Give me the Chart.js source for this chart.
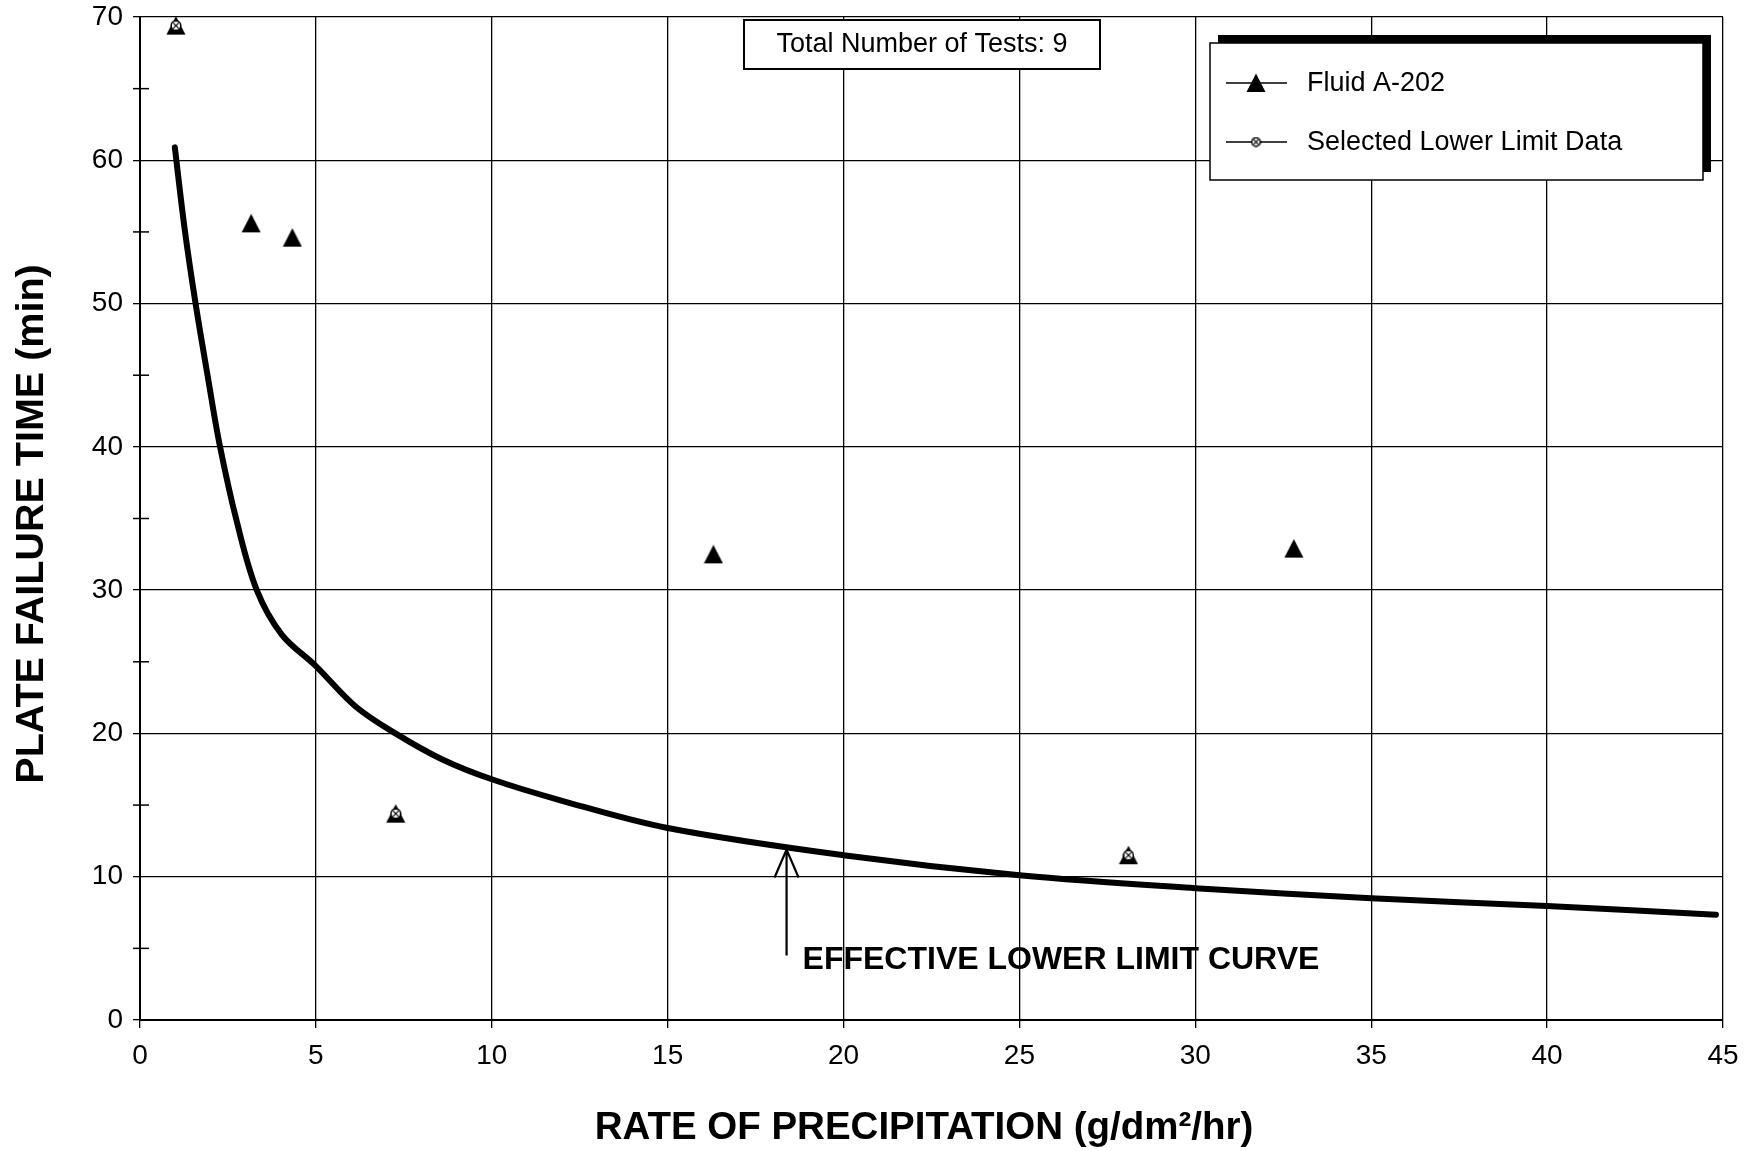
<!DOCTYPE html>
<html>
<head>
<meta charset="utf-8">
<title>Plate Failure Time vs Rate of Precipitation</title>
<script src="https://cdn.jsdelivr.net/npm/chart.js@4.4.1/dist/chart.umd.min.js"></script>
<style>
  html, body { margin: 0; padding: 0; background: #ffffff; }
  #wrap { width: 1747px; height: 1151px; }
</style>
</head>
<body>
<div id="wrap"><canvas id="failureChart" width="1747" height="1151"></canvas></div>
<script>
// Fluid A-202 test results
const fluidX = [1.02, 3.16, 4.33, 7.27, 16.3, 28.1, 32.8];
const fluidY = [69.4, 55.6, 54.6, 14.4, 32.5, 11.5, 32.9];

// Selected lower limit data (subset of the tests)
const selectedX = [1.02, 7.27, 28.1];
const selectedY = [69.4, 14.4, 11.5];

// Effective lower limit curve
const curveX = [0.99, 1.27, 1.58, 1.92, 2.26, 2.75, 3.32, 4.03, 5.0, 6.12, 7.26, 8.58, 10.0, 12.0, 15.0, 20.0, 25.0, 30.0, 35.0, 40.0, 44.8];
const curveY = [60.9, 55.2, 50.0, 45.0, 40.2, 34.8, 30.0, 26.9, 24.7, 21.9, 20.0, 18.2, 16.8, 15.3, 13.4, 11.5, 10.1, 9.2, 8.5, 7.95, 7.35];

// Axis ticks
const xTicks = [0, 5, 10, 15, 20, 25, 30, 35, 40, 45];
const yTicks = [0, 10, 20, 30, 40, 50, 60, 70];
const yMinorTicks = [5, 15, 25, 35, 45, 55, 65];

// Texts
const xTitle = 'RATE OF PRECIPITATION (g/dm\u00B2/hr)';
const yTitle = 'PLATE FAILURE TIME (min)';
const testsLabel = 'Total Number of Tests: 9';
const curveLabel = 'EFFECTIVE LOWER LIMIT CURVE';
const arrowAt = { x: 18.38, yFrom: 4.5, yTo: 11.9 };

const ctx = document.getElementById('failureChart').getContext('2d');

// Marker images (triangle and small circled cross)
function makeTriangle() {
    const c = document.createElement('canvas');
    c.width = 20; c.height = 20;
    const g = c.getContext('2d');
    g.fillStyle = '#000';
    g.beginPath();
    g.moveTo(10, 0.5);
    g.lineTo(19.5, 19);
    g.lineTo(0.5, 19);
    g.closePath();
    g.fill();
    return c;
}

function makeCircleMark(size) {
    const c = document.createElement('canvas');
    c.width = size; c.height = size;
    const g = c.getContext('2d');
    const m = size / 2;
    const r = m - 1.2;
    g.fillStyle = '#fff';
    g.strokeStyle = '#000';
    g.lineWidth = 1.5;
    g.beginPath();
    g.arc(m, m, r, 0, Math.PI * 2);
    g.fill();
    g.stroke();
    g.lineWidth = 1.2;
    const d = r * 0.55;
    g.beginPath();
    g.moveTo(m - d, m - d); g.lineTo(m + d, m + d);
    g.moveTo(m + d, m - d); g.lineTo(m - d, m + d);
    g.stroke();
    return c;
}

const triangleImg = makeTriangle();
const circleImg = makeCircleMark(12);
const circleLegendImg = makeCircleMark(11);

const toPoints = (xs, ys) => xs.map((x, i) => ({ x: x, y: ys[i] }));

// Extra drawing: titles, minor ticks, text box, legend, arrow
const decorPlugin = {
    id: 'decor',
    afterDraw(chart) {
        const c = chart.ctx;
        const xs = chart.scales.x;
        const ys = chart.scales.y;
        const area = chart.chartArea;
        c.save();

        // minor ticks on the y axis
        c.strokeStyle = '#000';
        c.lineWidth = 1.5;
        yMinorTicks.forEach(v => {
            const py = ys.getPixelForValue(v);
            c.beginPath();
            c.moveTo(area.left - 7, py);
            c.lineTo(area.left + 9, py);
            c.stroke();
        });

        // axis titles
        c.fillStyle = '#000';
        c.font = 'bold 38.5px "Liberation Sans", Arial, sans-serif';
        c.textAlign = 'center';
        c.textBaseline = 'middle';
        c.fillText(xTitle, 924, 1128);
        c.save();
        c.translate(32, 524);
        c.rotate(-Math.PI / 2);
        c.font = 'bold 39.5px "Liberation Sans", Arial, sans-serif';
        c.fillText(yTitle, 0, 0);
        c.restore();

        // arrow pointing at the curve
        const ax = xs.getPixelForValue(arrowAt.x);
        const ay0 = ys.getPixelForValue(arrowAt.yFrom);
        const ay1 = ys.getPixelForValue(arrowAt.yTo);
        c.lineWidth = 2.2;
        c.beginPath();
        c.moveTo(ax, ay0);
        c.lineTo(ax, ay1);
        c.moveTo(ax - 12, ay1 + 28);
        c.lineTo(ax, ay1);
        c.lineTo(ax + 12, ay1 + 28);
        c.stroke();

        c.font = 'bold 32px "Liberation Sans", Arial, sans-serif';
        c.textAlign = 'left';
        c.fillText(curveLabel, ax + 16, ay0 + 5);

        // "Total Number of Tests" box
        c.fillStyle = '#fff';
        c.fillRect(744, 20, 356, 49);
        c.strokeStyle = '#000';
        c.lineWidth = 2;
        c.strokeRect(744, 20, 356, 49);
        c.fillStyle = '#000';
        c.font = '27px "Liberation Sans", Arial, sans-serif';
        c.textAlign = 'center';
        c.fillText(testsLabel, 922, 45);

        // legend with drop shadow
        const lx = 1210, ly = 43, lw = 493, lh = 137;
        c.fillStyle = '#000';
        c.fillRect(lx + 8, ly - 8, lw, lh);
        c.fillStyle = '#fff';
        c.fillRect(lx, ly, lw, lh);
        c.lineWidth = 1.5;
        c.strokeRect(lx, ly, lw, lh);

        const rows = [
            { label: chart.data.datasets[1].label, img: triangleImg, y: 83 },
            { label: chart.data.datasets[2].label, img: circleLegendImg, y: 142 }
        ];
        c.font = '27px "Liberation Sans", Arial, sans-serif';
        c.textAlign = 'left';
        rows.forEach(r => {
            c.strokeStyle = '#000';
            c.lineWidth = 1.5;
            c.beginPath();
            c.moveTo(1226, r.y);
            c.lineTo(1287, r.y);
            c.stroke();
            c.drawImage(r.img, 1256 - r.img.width / 2, r.y - r.img.height / 2);
            c.fillStyle = '#000';
            c.fillText(r.label, 1307, r.y + 1);
        });

        c.restore();
    }
};

const tickFont = { family: '"Liberation Sans", Arial, sans-serif', size: 28 };

const failureChart = new Chart(ctx, {
    type: 'scatter',
    data: {
        datasets: [
            {
                label: 'Effective Lower Limit Curve',
                data: toPoints(curveX, curveY),
                showLine: true,
                borderColor: '#000',
                borderWidth: 6,
                borderCapStyle: 'round',
                borderJoinStyle: 'round',
                pointRadius: 0,
                tension: 0.35,
                order: 3
            },
            {
                label: 'Fluid A-202',
                data: toPoints(fluidX, fluidY),
                pointStyle: triangleImg,
                pointRadius: 10,
                showLine: false,
                order: 2
            },
            {
                label: 'Selected Lower Limit Data',
                data: toPoints(selectedX, selectedY),
                pointStyle: circleImg,
                pointRadius: 6,
                showLine: false,
                order: 1
            }
        ]
    },
    options: {
        responsive: false,
        animation: false,
        layout: { padding: { left: 0, right: 24, top: 17, bottom: 0 } },
        plugins: {
            legend: { display: false },
            tooltip: { enabled: false }
        },
        scales: {
            x: {
                type: 'linear',
                min: 0,
                max: 45,
                afterBuildTicks: scale => { scale.ticks = xTicks.map(v => ({ value: v })); },
                afterFit: scale => {
                    scale.height = 131;
                    scale.paddingLeft = 0;
                    scale.paddingRight = 0;
                },
                grid: { color: '#000', lineWidth: 1.3, tickLength: 8 },
                border: { color: '#000', width: 2 },
                ticks: { color: '#000', padding: 11, font: tickFont }
            },
            y: {
                type: 'linear',
                min: 0,
                max: 70,
                afterBuildTicks: scale => { scale.ticks = yTicks.map(v => ({ value: v })); },
                afterFit: scale => {
                    scale.width = 140;
                    scale.paddingTop = 0;
                    scale.paddingBottom = 0;
                },
                grid: { color: '#000', lineWidth: 1.3, tickLength: 7 },
                border: { color: '#000', width: 2 },
                ticks: { color: '#000', padding: 10, font: tickFont }
            }
        }
    },
    plugins: [decorPlugin]
});
</script>
</body>
</html>
